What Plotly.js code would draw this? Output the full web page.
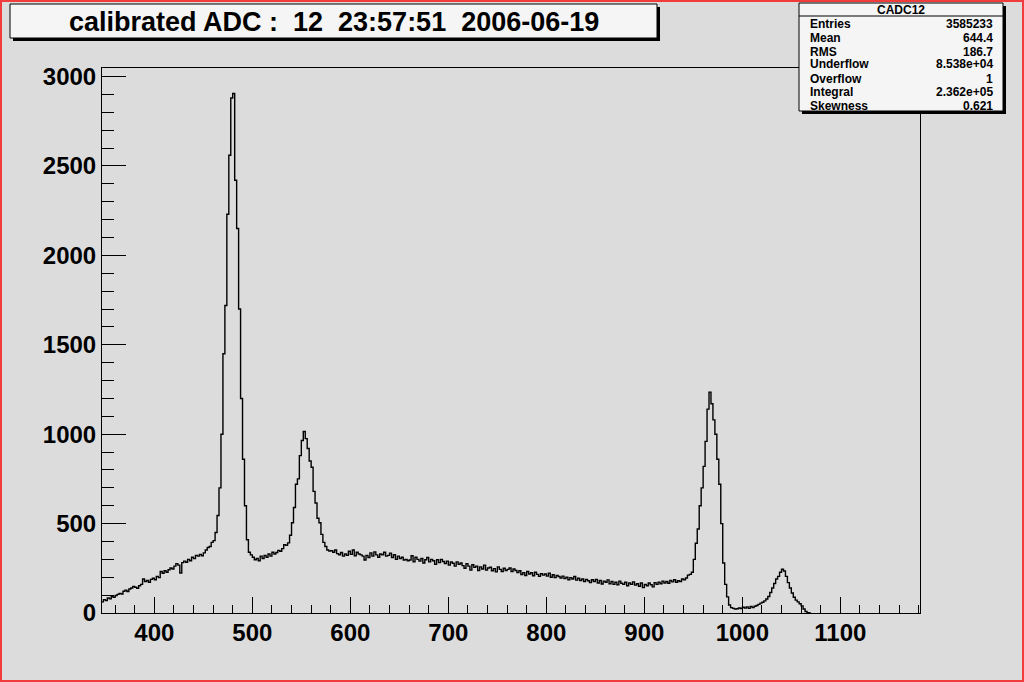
<!DOCTYPE html>
<html>
<head>
<meta charset="utf-8">
<script src="https://cdn.plot.ly/plotly-3.0.1.min.js"></script>
<style>
  html, body { margin: 0; padding: 0; background: #dcdcdc; }
  #wrap { position: relative; width: 1024px; height: 682px; }
  #chart { width: 1024px; height: 682px; }
  #border { position: absolute; left: 0; top: 0; width: 1024px; height: 682px;
            box-sizing: border-box; border: 2px solid #f03c3c; pointer-events: none; }
</style>
</head>
<body>
<div id="wrap"><div id="chart"></div><div id="border"></div></div>
<script>
// ---- data ----
const histName = "CADC12";
const titleText = "calibrated ADC :\u00a0\u00a012\u00a0\u00a023:57:51\u00a0\u00a02006-06-19";
const binStart = 346;   // lower edge of first bin
const binWidth = 2;     // bin width in ADC units
const counts = [
  62, 75, 70, 84, 80, 92, 88, 98, 104, 110,
  106, 122, 128, 120, 134, 140, 148, 144, 138, 152,
  160, 190, 176, 182, 172, 188, 194, 186, 205, 198,
  232, 222, 236, 228, 242, 252, 246, 262, 276, 268,
  224, 282, 290, 284, 300, 292, 312, 304, 322, 318,
  328, 320, 336, 352, 366, 372, 395, 405, 450, 545,
  700, 1000, 1450, 1720, 2230, 2560, 2880, 2905, 2420, 2150,
  1700, 1200, 860, 600, 410, 340, 325, 312, 298, 305,
  292, 318, 305, 322, 312, 330, 318, 340, 330, 338,
  350, 345, 360, 382, 378, 392, 435, 505, 590, 720,
  750, 880, 965, 1015, 975, 920, 850, 815, 680, 615,
  530, 505, 440, 395, 372, 352, 346, 348, 340, 352,
  332, 326, 338, 318, 330, 322, 345, 328, 352, 320,
  340, 330, 325, 318, 296, 322, 310, 336, 318, 342,
  325, 312, 330, 326, 340, 318, 322, 335, 310, 326,
  300, 318, 305, 312, 296, 300, 292, 296, 320, 286,
  312, 300, 290, 305, 280, 298, 310, 286, 300, 292,
  272, 298, 282, 300, 288, 276, 290, 268, 285, 278,
  262, 286, 272, 280, 265, 250, 276, 262, 240, 270,
  255, 262, 238, 258, 246, 268, 240, 252, 256, 236,
  248, 230, 258, 244, 232, 250, 238, 244, 252, 232,
  246, 238, 226, 236, 215, 226, 210, 232, 218, 225,
  208, 228, 216, 205, 220, 212, 218, 206, 222, 200,
  214, 198, 210, 204, 196, 206, 192, 200, 186, 198,
  190, 204, 184, 194, 182, 190, 176, 188, 180, 170,
  186, 176, 188, 168, 182, 162, 178, 172, 185, 164,
  176, 160, 172, 158, 178, 166, 160, 172, 152, 168,
  160, 174, 156, 164, 150, 168, 142, 160, 152, 168,
  158, 146, 170, 160, 172, 164, 178, 168, 176, 166,
  182, 174, 186, 172, 180, 176, 190, 186, 196, 212,
  216, 228, 300, 390, 470, 600, 700, 820, 960, 1140,
  1235, 1170, 1080, 1000, 860, 720, 500, 280, 160, 90,
  45, 30, 26, 22, 24, 28, 25, 32, 28, 34,
  26, 36, 30, 38, 42, 48, 55, 60, 68, 78,
  92, 115, 140, 165, 190, 205, 228, 245, 235, 205,
  170, 140, 112, 88, 72, 62, 52, 40, 22, 8,
  2, 0
];
const statLabels = ["Entries", "Mean", "RMS", "Underflow", "Overflow", "Integral", "Skewness"];
const statValues = ["3585233", "644.4", "186.7", "8.538e+04", "1", "2.362e+05", "0.621"];
const xTickStep = 100, xMinorStep = 20;
const yTickStep = 500, yMinorStep = 100;

// ---- build step curve from bins ----
const xs = [], ys = [];
for (let i = 0; i < counts.length; i++) {
  xs.push(binStart + i * binWidth);
  ys.push(counts[i]);
}
xs.push(binStart + counts.length * binWidth);
ys.push(counts[counts.length - 1]);

// ---- layout helpers (pixel -> paper) ----
const L = 102, R = 920, T = 68, B = 613;
const px = x => (x - L) / (R - L);
const py = y => (B - y) / (B - T);

const FONT = "Liberation Sans, Arial, Helvetica, sans-serif";
const shapes = [];
const annotations = [];

function box(x0, y0, x1, y1) {
  shapes.push({type: "rect", xref: "paper", yref: "paper", layer: "above",
    x0: px(x0 + 3), x1: px(x1 + 3), y0: py(y0 + 3), y1: py(y1 + 3),
    fillcolor: "#000000", line: {width: 0}});
  shapes.push({type: "rect", xref: "paper", yref: "paper", layer: "above",
    x0: px(x0), x1: px(x1), y0: py(y0), y1: py(y1),
    fillcolor: "#f5f5f5", line: {color: "#000000", width: 1}});
}

// title box
box(10, 4, 657, 38);
annotations.push({xref: "paper", yref: "paper", x: px(333.5), y: py(22),
  xanchor: "center", yanchor: "middle", showarrow: false,
  text: "<b>" + titleText + "</b>", font: {family: FONT, size: 27, color: "#000"}});

// stats box
box(799, 3, 1003, 111);
shapes.push({type: "line", xref: "paper", yref: "paper", layer: "above",
  x0: px(799), x1: px(1003), y0: py(16), y1: py(16), line: {color: "#000", width: 1}});
annotations.push({xref: "paper", yref: "paper", x: px(901), y: py(10),
  xanchor: "center", yanchor: "middle", showarrow: false,
  text: "<b>" + histName + "</b>", font: {family: FONT, size: 12, color: "#000"}});
const rowY = [24, 37.7, 51.5, 64.5, 79, 92.3, 106];
statLabels.forEach((lab, i) => {
  annotations.push({xref: "paper", yref: "paper", x: px(808), y: py(rowY[i]),
    xanchor: "left", yanchor: "middle", showarrow: false,
    text: "<b>" + lab + "</b>", font: {family: FONT, size: 12, color: "#000"}});
  annotations.push({xref: "paper", yref: "paper", x: px(995), y: py(rowY[i]),
    xanchor: "right", yanchor: "middle", showarrow: false,
    text: "<b>" + statValues[i] + "</b>", font: {family: FONT, size: 12, color: "#000"}});
});

const tickFont = {family: FONT, size: 24, color: "#000", weight: "bold"};

const trace = {
  type: "scatter", mode: "lines", x: xs, y: ys,
  line: {shape: "hv", color: "#000000", width: 1.4},
  hoverinfo: "skip"
};

const layout = {
  width: 1024, height: 682,
  margin: {l: L, r: 1024 - R, t: T, b: 682 - B, pad: 0},
  paper_bgcolor: "#dcdcdc", plot_bgcolor: "#dcdcdc",
  showlegend: false,
  xaxis: {
    range: [346.6, 1181.3], showgrid: false, zeroline: false,
    showline: true, mirror: true, linecolor: "#000", linewidth: 1,
    ticks: "inside", ticklen: 16, tickwidth: 1, tickcolor: "#000",
    tick0: 0, dtick: xTickStep,
    minor: {dtick: xMinorStep, tick0: 0, ticks: "inside", ticklen: 8, tickcolor: "#000", tickwidth: 1, showgrid: false},
    tickfont: tickFont, ticklabelstandoff: -2
  },
  yaxis: {
    range: [0, 3048], showgrid: false, zeroline: false,
    showline: true, mirror: true, linecolor: "#000", linewidth: 1,
    ticks: "inside", ticklen: 24, tickwidth: 1, tickcolor: "#000",
    tick0: 0, dtick: yTickStep,
    minor: {dtick: yMinorStep, tick0: 0, ticks: "inside", ticklen: 12, tickcolor: "#000", tickwidth: 1, showgrid: false},
    tickfont: tickFont, ticklabelstandoff: 0
  },
  shapes: shapes,
  annotations: annotations
};

Plotly.newPlot("chart", [trace], layout, {displayModeBar: false, staticPlot: true});
</script>
</body>
</html>
